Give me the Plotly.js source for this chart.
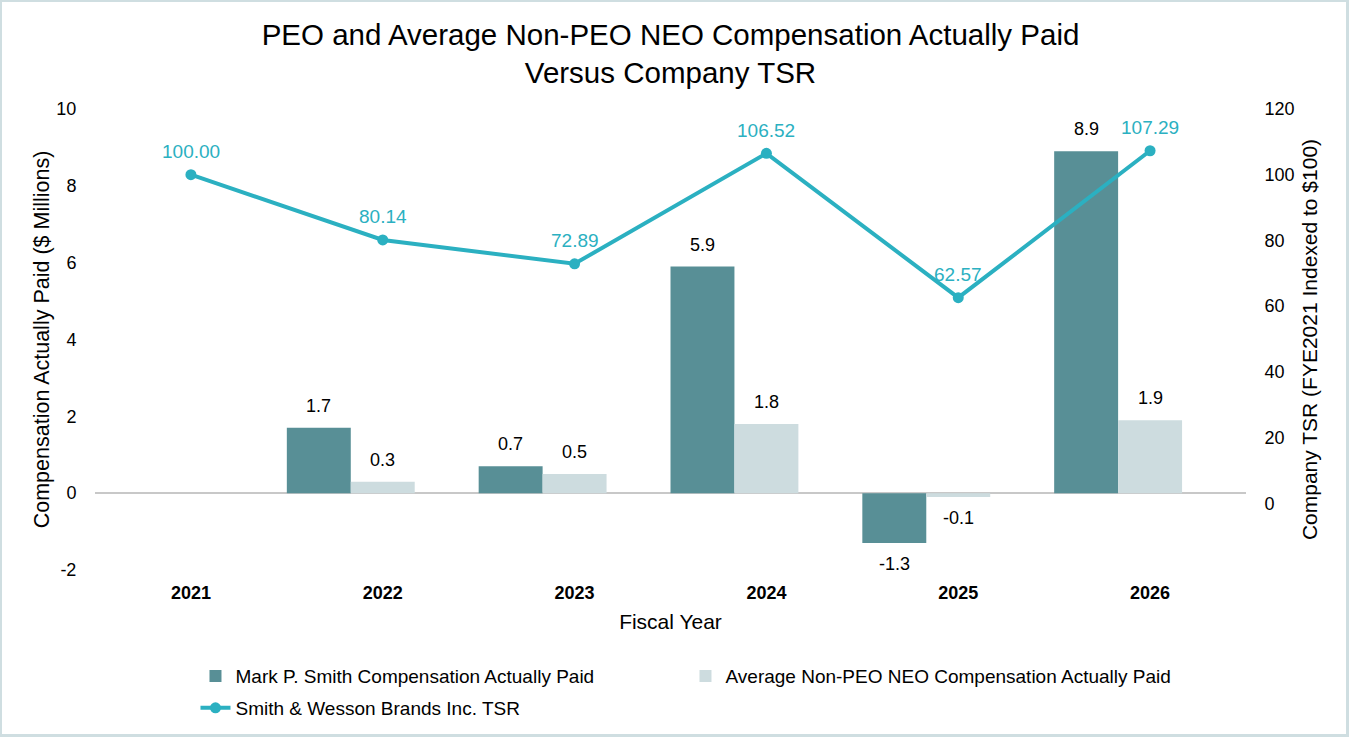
<!DOCTYPE html>
<html>
<head>
<meta charset="utf-8">
<script src="https://cdn.plot.ly/plotly-3.0.1.min.js"></script>
<style>
  html, body { margin: 0; padding: 0; background: #ffffff; }
  #frame { width: 1349px; height: 737px; box-sizing: border-box; border: 2px solid #cfdee1; border-right-width: 3px; border-bottom-width: 3px; position: relative; overflow: hidden; }
  #chart { position: absolute; left: -2px; top: -2px; width: 1349px; height: 737px; }
</style>
</head>
<body>
<div id="frame"><div id="chart"></div></div>
<script>
const years = ['2021', '2022', '2023', '2024', '2025', '2026'];
const peoCap = [null, 1.7, 0.7, 5.9, -1.3, 8.9];
const nonPeoCap = [null, 0.3, 0.5, 1.8, -0.1, 1.9];
const tsr = [100.00, 80.14, 72.89, 106.52, 62.57, 107.29];
const leftTicks = [-2, 0, 2, 4, 6, 8, 10];
const rightTicks = [0, 20, 40, 60, 80, 100, 120];

const FONT = 'Arial, "Liberation Sans", sans-serif';
const BAR_W = 1 / 3;

const traces = [
  {
    type: 'bar', name: 'Mark P. Smith Compensation Actually Paid',
    x: years, y: peoCap, width: BAR_W, offset: -0.5,
    marker: { color: '#588f96' }, legend: 'legend',
    hoverinfo: 'skip'
  },
  {
    type: 'bar', name: 'Average Non-PEO NEO Compensation Actually Paid',
    x: years, y: nonPeoCap, width: BAR_W, offset: -0.5 + BAR_W,
    marker: { color: '#cddcdf' }, legend: 'legend',
    hoverinfo: 'skip'
  },
  {
    type: 'scatter', name: 'Smith & Wesson Brands Inc. TSR',
    x: years, y: tsr, yaxis: 'y2', legend: 'legend2',
    mode: 'lines+markers',
    line: { color: '#2bb0c1', width: 4 },
    marker: { color: '#2bb0c1', size: 11 },
    hoverinfo: 'skip'
  }
];

// Annotations on a category axis use the category index as x position
const annotations = [];
function barLabels(vals, xOffset) {
  vals.forEach((v, i) => {
    if (v === null) return;
    annotations.push({
      xref: 'x', yref: 'y', x: i + xOffset, y: v,
      yshift: v >= 0 ? 22 : -21, yanchor: 'middle', showarrow: false,
      text: v.toFixed(1), font: { family: FONT, size: 18, color: '#000000' }
    });
  });
}
barLabels(peoCap, -BAR_W);
barLabels(nonPeoCap, 0);
tsr.forEach((v, i) => {
  annotations.push({
    xref: 'x', yref: 'y2', x: i, y: v, yshift: 23, yanchor: 'middle',
    showarrow: false, text: v.toFixed(2),
    font: { family: FONT, size: 19, color: '#2bb0c1' }
  });
});

const layout = {
  width: 1349, height: 737,
  paper_bgcolor: '#ffffff', plot_bgcolor: '#ffffff',
  font: { family: FONT, size: 18, color: '#000000' },
  margin: { l: 95, r: 103, t: 109, b: 167, pad: 0, autoexpand: false },
  title: {
    text: 'PEO and Average Non-PEO NEO Compensation Actually Paid<br>Versus Company TSR',
    font: { family: FONT, size: 29.5, color: '#000000' },
    x: 0.5, xanchor: 'center', xref: 'paper', y: 0.9395, yanchor: 'middle', yref: 'container'
  },
  barmode: 'overlay',
  showlegend: true,
  legend: {
    orientation: 'h', x: 0.0873, xanchor: 'left', y: -0.1888, yanchor: 'top',
    font: { family: FONT, size: 19, color: '#000000' },
    entrywidth: 445, entrywidthmode: 'pixels', traceorder: 'normal',
    bgcolor: 'rgba(0,0,0,0)'
  },
  legend2: {
    orientation: 'h', x: 0.0873, xanchor: 'left', y: -0.258, yanchor: 'top',
    font: { family: FONT, size: 19, color: '#000000' },
    bgcolor: 'rgba(0,0,0,0)'
  },
  annotations: annotations,
  xaxis: {
    type: 'category', range: [-0.5, 5.5],
    tickfont: { family: FONT, size: 18, color: '#000000', weight: 'bold' },
    ticks: 'outside', ticklen: 6, tickcolor: 'rgba(0,0,0,0)',
    showline: false, showgrid: false, zeroline: false,
    title: { text: 'Fiscal Year', font: { family: FONT, size: 21, color: '#000000' }, standoff: 12 }
  },
  yaxis: {
    range: [-2, 10], tickvals: leftTicks, ticktext: leftTicks.map(String),
    tickfont: { family: FONT, size: 18, color: '#000000' },
    ticks: 'outside', ticklen: 14, tickcolor: 'rgba(0,0,0,0)',
    showgrid: false, showline: false,
    zeroline: true, zerolinecolor: '#c8c8c8', zerolinewidth: 1.5,
    title: { text: 'Compensation Actually Paid ($ Millions)', font: { family: FONT, size: 21.5, color: '#000000' }, standoff: 0 }
  },
  yaxis2: {
    overlaying: 'y', side: 'right', range: [-20.3, 120],
    tickvals: rightTicks, ticktext: rightTicks.map(String),
    tickfont: { family: FONT, size: 18, color: '#000000' },
    ticks: 'outside', ticklen: 14, tickcolor: 'rgba(0,0,0,0)',
    showgrid: false, showline: false, zeroline: false,
    title: { text: 'Company TSR (FYE2021 Indexed to $100)', font: { family: FONT, size: 21, color: '#000000' }, standoff: 8 }
  }
};

Plotly.newPlot('chart', traces, layout, { staticPlot: true, displayModeBar: false });
</script>
</body>
</html>
